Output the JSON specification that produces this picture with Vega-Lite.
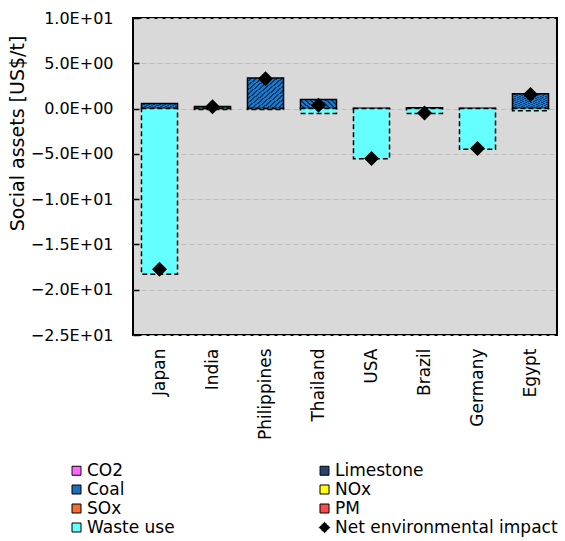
{
  "$schema": "https://vega.github.io/schema/vega-lite/v6.json",
  "width": 424,
  "height": 317,
  "autosize": {"type": "none"},
  "padding": {"left": 133, "top": 18, "right": 8, "bottom": 206},
  "background": "white",
  "config": {
    "font": "DejaVu Sans",
    "view": {"fill": "#d9d9d9", "stroke": "black", "strokeWidth": 2},
    "axis": {"labelFont": "DejaVu Sans", "titleFont": "DejaVu Sans", "labelColor": "black", "titleColor": "black"}
  },
  "data": {
    "values": [
      {"country": "Japan", "component": "Coal", "value": 0.55},
      {"country": "Japan", "component": "Waste use", "value": -18.3},
      {"country": "India", "component": "Coal", "value": 0.22},
      {"country": "India", "component": "Waste use", "value": -0.1},
      {"country": "Philippines", "component": "Coal", "value": 3.38},
      {"country": "Philippines", "component": "Waste use", "value": -0.1},
      {"country": "Thailand", "component": "Coal", "value": 1.0},
      {"country": "Thailand", "component": "Waste use", "value": -0.55},
      {"country": "USA", "component": "Coal", "value": 0.04},
      {"country": "USA", "component": "Waste use", "value": -5.55},
      {"country": "Brazil", "component": "Coal", "value": 0.1},
      {"country": "Brazil", "component": "Waste use", "value": -0.55},
      {"country": "Germany", "component": "Coal", "value": 0.04},
      {"country": "Germany", "component": "Waste use", "value": -4.5},
      {"country": "Egypt", "component": "Coal", "value": 1.65},
      {"country": "Egypt", "component": "Waste use", "value": -0.25},
      {"country": "Japan", "component": "Net environmental impact", "value": -17.75},
      {"country": "India", "component": "Net environmental impact", "value": 0.2},
      {"country": "Philippines", "component": "Net environmental impact", "value": 3.3},
      {"country": "Thailand", "component": "Net environmental impact", "value": 0.37},
      {"country": "USA", "component": "Net environmental impact", "value": -5.5},
      {"country": "Brazil", "component": "Net environmental impact", "value": -0.5},
      {"country": "Germany", "component": "Net environmental impact", "value": -4.4},
      {"country": "Egypt", "component": "Net environmental impact", "value": 1.55}
    ]
  },
  "encoding": {
    "x": {
      "field": "country",
      "type": "nominal",
      "sort": ["Japan", "India", "Philippines", "Thailand", "USA", "Brazil", "Germany", "Egypt"],
      "scale": {"paddingInner": 0.32, "paddingOuter": 0.16},
      "axis": {"title": null, "labelAngle": 270, "labelFontSize": 17, "labelPadding": 13, "ticks": false, "domain": false, "labelAlign": "right", "labelBaseline": "middle"}
    },
    "y": {
      "field": "value",
      "type": "quantitative",
      "stack": null,
      "scale": {"domain": [-25, 10], "nice": false, "zero": false},
      "axis": {
        "title": "Social assets [US$/t]",
        "titleFontSize": 19,
        "titleFontWeight": "normal",
        "titleX": -116,
        "titleY": 115,
        "titleAngle": 270,
        "titleAlign": "center",
        "titleBaseline": "middle",
        "values": [-25, -20, -15, -10, -5, 0, 5, 10],
        "labelExpr": "replace(replace(upper(format(datum.value, '.1e')), 'E+', 'E+0'), 'E-', 'E-0')",
        "labelFontSize": 16,
        "labelPadding": 26,
        "tickSize": -6,
        "tickColor": "black",
        "tickWidth": 1.5,
        "domain": false,
        "grid": true,
        "gridColor": "#bdbdbd",
        "gridDash": [5, 3],
        "gridWidth": 1
      }
    }
  },
  "layer": [
    {
      "transform": [{"filter": "datum.component === 'Coal'"}],
      "mark": {
        "type": "bar",
        "stroke": "black",
        "strokeWidth": 1.5,
        "fill": {
          "gradient": "linear", "x1": 0, "y1": 0, "x2": 1, "y2": 1,
          "stops": [
            {"offset": 0, "color": "#1f78cc"}, {"offset": 0.042857, "color": "#1f78cc"}, {"offset": 0.042857, "color": "#0c3a66"}, {"offset": 0.071429, "color": "#0c3a66"},
            {"offset": 0.071429, "color": "#1f78cc"}, {"offset": 0.114286, "color": "#1f78cc"}, {"offset": 0.114286, "color": "#0c3a66"}, {"offset": 0.142857, "color": "#0c3a66"},
            {"offset": 0.142857, "color": "#1f78cc"}, {"offset": 0.185714, "color": "#1f78cc"}, {"offset": 0.185714, "color": "#0c3a66"}, {"offset": 0.214286, "color": "#0c3a66"},
            {"offset": 0.214286, "color": "#1f78cc"}, {"offset": 0.257143, "color": "#1f78cc"}, {"offset": 0.257143, "color": "#0c3a66"}, {"offset": 0.285714, "color": "#0c3a66"},
            {"offset": 0.285714, "color": "#1f78cc"}, {"offset": 0.328571, "color": "#1f78cc"}, {"offset": 0.328571, "color": "#0c3a66"}, {"offset": 0.357143, "color": "#0c3a66"},
            {"offset": 0.357143, "color": "#1f78cc"}, {"offset": 0.4, "color": "#1f78cc"}, {"offset": 0.4, "color": "#0c3a66"}, {"offset": 0.428571, "color": "#0c3a66"},
            {"offset": 0.428571, "color": "#1f78cc"}, {"offset": 0.471429, "color": "#1f78cc"}, {"offset": 0.471429, "color": "#0c3a66"}, {"offset": 0.5, "color": "#0c3a66"},
            {"offset": 0.5, "color": "#1f78cc"}, {"offset": 0.542857, "color": "#1f78cc"}, {"offset": 0.542857, "color": "#0c3a66"}, {"offset": 0.571429, "color": "#0c3a66"},
            {"offset": 0.571429, "color": "#1f78cc"}, {"offset": 0.614286, "color": "#1f78cc"}, {"offset": 0.614286, "color": "#0c3a66"}, {"offset": 0.642857, "color": "#0c3a66"},
            {"offset": 0.642857, "color": "#1f78cc"}, {"offset": 0.685714, "color": "#1f78cc"}, {"offset": 0.685714, "color": "#0c3a66"}, {"offset": 0.714286, "color": "#0c3a66"},
            {"offset": 0.714286, "color": "#1f78cc"}, {"offset": 0.757143, "color": "#1f78cc"}, {"offset": 0.757143, "color": "#0c3a66"}, {"offset": 0.785714, "color": "#0c3a66"},
            {"offset": 0.785714, "color": "#1f78cc"}, {"offset": 0.828571, "color": "#1f78cc"}, {"offset": 0.828571, "color": "#0c3a66"}, {"offset": 0.857143, "color": "#0c3a66"},
            {"offset": 0.857143, "color": "#1f78cc"}, {"offset": 0.9, "color": "#1f78cc"}, {"offset": 0.9, "color": "#0c3a66"}, {"offset": 0.928571, "color": "#0c3a66"},
            {"offset": 0.928571, "color": "#1f78cc"}, {"offset": 0.971429, "color": "#1f78cc"}, {"offset": 0.971429, "color": "#0c3a66"}, {"offset": 1, "color": "#0c3a66"}
          ]
        }
      },
      "encoding": {}
    },
    {
      "transform": [{"filter": "datum.component === 'Waste use'"}],
      "mark": {"type": "bar", "stroke": "black", "strokeWidth": 1.5, "strokeDash": [5, 3]},
      "encoding": {
        "color": {
          "field": "component",
          "type": "nominal",
          "scale": {
            "domain": ["CO2", "Coal", "SOx", "Waste use", "Limestone", "NOx", "PM", "Net environmental impact"],
            "range": ["#ff66ff", "#1f6cb8", "#f07030", "#66ffff", "#2a4270", "#ffff00", "#ff4a4a", "#000000"]
          },
          "legend": {
            "title": null,
            "orient": "none",
            "legendX": -65,
            "legendY": 444,
            "columns": 2,
            "columnPadding": 141,
            "rowPadding": 1,
            "padding": 0,
            "labelFont": "DejaVu Sans",
            "labelFontSize": 17,
            "labelColor": "black",
            "labelOffset": 2,
            "labelLimit": 400,
            "symbolType": "square",
            "symbolSize": 81,
            "symbolStrokeColor": "black",
            "symbolStrokeWidth": 1,
            "encode": {
              "symbols": {
                "update": {
                  "shape": {"signal": "datum.value === 'Net environmental impact' ? 'diamond' : 'square'"},
                  "size": {"signal": "datum.value === 'Net environmental impact' ? 110 : 81"},
                  "stroke": {"value": "black"},
                  "strokeWidth": {"value": 1},
                  "strokeDash": {"value": [1, 0]},
                  "opacity": {"value": 1}
                }
              }
            }
          }
        }
      }
    },
    {
      "transform": [{"filter": "datum.component === 'Net environmental impact'"}],
      "mark": {"type": "point", "shape": "diamond", "filled": true, "size": 225, "opacity": 1},
      "encoding": {
        "color": {"field": "component", "type": "nominal"}
      }
    }
  ]
}
